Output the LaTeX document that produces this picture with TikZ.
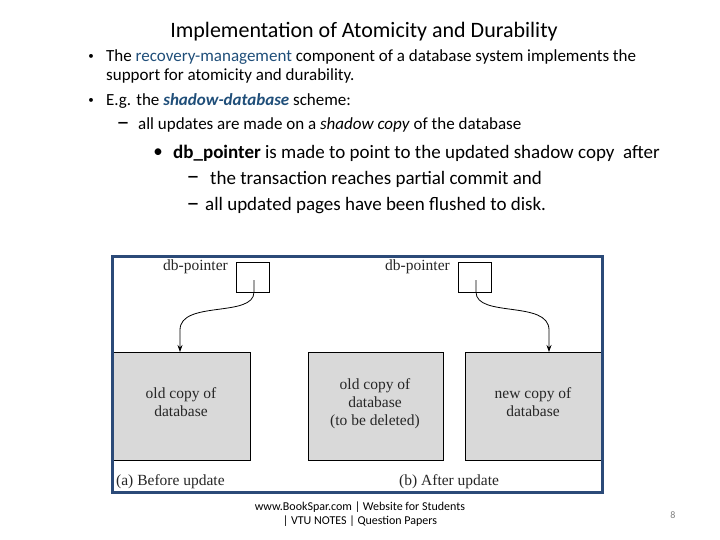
\documentclass[tikz,border=0pt]{standalone}
\usepackage{fontspec}
\setmainfont{Carlito}
\newfontfamily\figfont{Liberation Serif}
\usetikzlibrary{arrows.meta}
\definecolor{hl}{HTML}{1F4E79}
\definecolor{frameblue}{HTML}{2B4A78}
\definecolor{dbgray}{HTML}{D9D9D9}
\begin{document}
\begin{tikzpicture}[x=1pt,y=-1pt,
  txt/.style={anchor=west,inner sep=0pt},
  dashmark/.style={inner sep=0pt,font=\fontsize{26}{26}\selectfont},
  dbbox/.style={draw=black,fill=dbgray,line width=0.9pt},
  ptrbox/.style={draw=black,fill=white,line width=0.9pt},
  figtxt/.style={font=\figfont\fontsize{15.5}{18}\selectfont,text=black!85,align=center,inner sep=0pt},
  conn/.style={line width=0.8pt,-{Stealth[length=7pt,width=5pt]}}]
\useasboundingbox (0,0) rectangle (720,540);
% title
\node[inner sep=0pt] (title) at (364,32) {\fontsize{22}{24}\selectfont Implementation of Atomicity and Durability};
% bullets
\node[inner sep=0pt] (b1) at (91,57) {\fontsize{11}{12}\selectfont •};
\node[txt] (t1) at (106,57) {\fontsize{17}{19}\selectfont The \textcolor{hl}{recovery-management} component of a database system implements the};
\node[txt] (t1b) at (106,76) {\fontsize{17}{19}\selectfont support for atomicity and durability.};
\node[inner sep=0pt] (b2) at (91,101) {\fontsize{11}{12}\selectfont •};
\node[txt] (t2) at (106,101) {\fontsize{17}{19}\selectfont E.g. the \textcolor{hl}{\textbf{\textit{shadow-database}}} scheme:};
\node[dashmark] (d1) at (123,126) {–};
\node[txt] (t3) at (138,125) {\fontsize{17}{19}\selectfont all updates are made on a \textit{shadow copy} of the database};
\node[inner sep=0pt] (b3) at (158,153) {\fontsize{19}{21}\selectfont •};
\node[txt] (t4) at (173,153) {\fontsize{19}{21}\selectfont \textbf{db\_pointer} is made to point to the updated shadow copy\ \ after};
\node[dashmark] (d2) at (193,180) {–};
\node[txt] (t5) at (210,179) {\fontsize{19}{21}\selectfont the transaction reaches partial commit and};
\node[dashmark] (d3) at (193,207) {–};
\node[txt] (t6) at (205,206) {\fontsize{19}{21}\selectfont all updated pages have been flushed to disk.};
% figure
\fill[white] (112,256) rectangle (602,492);
\node[dbbox,minimum width=137pt,minimum height=108pt,anchor=north west] (A) at (113,352) {};
\node[dbbox,minimum width=135pt,minimum height=108pt,anchor=north west] (B) at (308,352) {};
\node[dbbox,minimum width=137pt,minimum height=108pt,anchor=north west] (C) at (465,352) {};
\node[figtxt] (At) at (181,402) {old copy of\\database};
\node[figtxt] (Bt) at (375,404) {old copy of\\database\\(to be deleted)};
\node[figtxt] (Ct) at (533,402) {new copy of\\database};
\node[ptrbox,minimum width=33pt,minimum height=30pt,anchor=north west] (P1) at (236,262) {};
\node[ptrbox,minimum width=33pt,minimum height=30pt,anchor=north west] (P2) at (458,262) {};
\node[figtxt,anchor=east] (L1) at (228,267) {db-pointer};
\node[figtxt,anchor=east] (L2) at (450,267) {db-pointer};
\coordinate (s1) at (254,280);
\coordinate (e1) at (180,352);
\coordinate (s2) at (476,280);
\coordinate (e2) at (549,352);
\draw[conn] (s1) -- (254,292) .. controls (254,318) and (180,300) .. (180,330) -- (e1);
\draw[conn] (s2) -- (476,292) .. controls (476,318) and (549,300) .. (549,330) -- (e2);
\node[figtxt,anchor=west] (capA) at (116,482) {(a) Before update};
\node[figtxt,anchor=west] (capB) at (399,482) {(b) After update};
\draw[frameblue,line width=3pt] (112,256) rectangle (602,492);
% footer
\node[inner sep=0pt,align=center,font=\fontsize{12}{14}\selectfont] (foot) at (360,514) {www.BookSpar.com | Website for Students\\| VTU NOTES | Question Papers};
\node[inner sep=0pt,text=gray] (page) at (673,515) {\fontsize{10}{10}\selectfont 8};
\end{tikzpicture}
\end{document}
